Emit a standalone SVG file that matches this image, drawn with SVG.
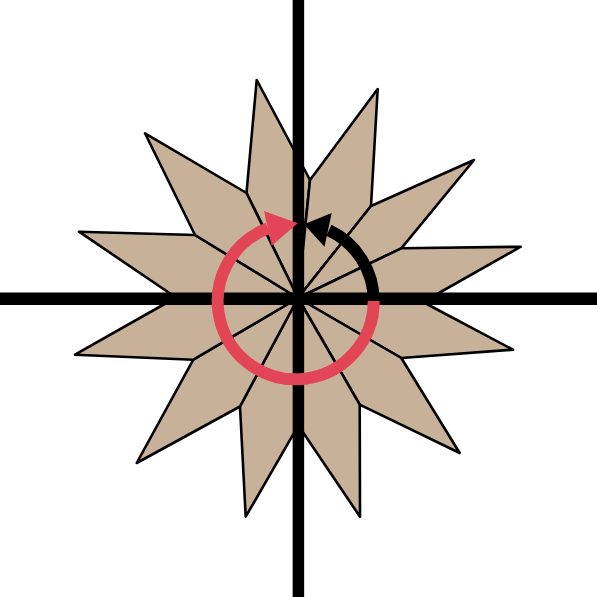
<svg xmlns="http://www.w3.org/2000/svg" width="597" height="597" viewBox="0 0 597 597">
<style>
.kite{fill:#C7B199;stroke:#000;stroke-width:2.6;stroke-linejoin:round}
.axis{stroke:#000;fill:none}
.red{stroke:#E24556;fill:none;stroke-width:12}
.blk{stroke:#000;fill:none;stroke-width:12}
</style>
<rect width="597" height="597" fill="#fff"/>
<g id="star">
<g id="kite-a"><polygon class="kite" points="298,298 246.5,193 256.7,80 310,180"/></g>
<g id="kite-b"><polygon class="kite" points="298,298 310,180 377.7,89 371,206"/></g>
<g id="kite-c"><polygon class="kite" points="298,298 371,206 474,160 401.3,248.3"/></g>
<g id="kite-d"><polygon class="kite" points="298,298 401.3,248.3 520.7,246.7 423,302"/></g>
<g id="kite-e"><polygon class="kite" points="298,298 423,302 513,349.7 401.3,358"/></g>
<g id="kite-f"><polygon class="kite" points="298,298 401.3,358 459.7,453 359.7,404.7"/></g>
<g id="kite-g"><polygon class="kite" points="298,298 359.7,404.7 360,516.7 298.4,425.4"/></g>
<g id="kite-h"><polygon class="kite" points="298,298 298.4,425.4 245.7,516.7 240,406.5"/></g>
<g id="kite-i"><polygon class="kite" points="298,298 240,406.5 136.7,463 193.3,359.7"/></g>
<g id="kite-j"><polygon class="kite" points="298,298 193.3,359.7 75,354.7 176,297.5"/></g>
<g id="kite-k"><polygon class="kite" points="298,298 176,297.5 79,231.7 195,235"/></g>
<g id="kite-l"><polygon class="kite" points="298,298 195,235 145,133.3 246.5,193"/></g>
</g>
<g id="axes">
<line class="axis" x1="298.4" y1="0" x2="298.4" y2="597" stroke-width="11.5"/>
<line class="axis" x1="0" y1="298.7" x2="597" y2="298.7" stroke-width="12.5"/>
</g>
<g id="connectors">
<g id="red-arrow">
<path class="red" d="M373.7,301 A78,78 0 1 1 267.9,228.4"/>
<polygon fill="#E24556" points="264,211 297.7,223.3 271.7,245.7"/>
</g>
<g id="black-arrow">
<path class="blk" d="M373.7,301 A78,78 0 0 0 328.9,230.3"/>
<polygon fill="#000" points="331.7,213 304,224.3 324.5,246.7"/>
</g>
</g>
</svg>
